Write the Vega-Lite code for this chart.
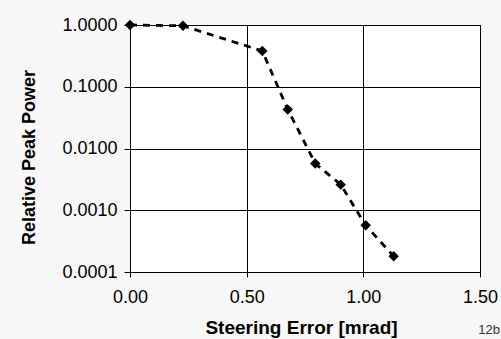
{
  "$schema": "https://vega.github.io/schema/vega-lite/v6.json",
  "width": 350,
  "height": 247,
  "autosize": {"type": "none"},
  "padding": {"left": 130, "top": 25, "right": 21, "bottom": 67},
  "background": "#f7f7f7",
  "title": {"text": "12b", "orient": "bottom", "anchor": "end", "frame": "group", "fontSize": 13, "font": "Liberation Sans", "fontWeight": "normal", "color": "#333333", "dx": 20, "dy": -17},
  "config": {
    "view": {"fill": "white", "stroke": "black", "strokeWidth": 1},
    "axis": {"domainColor": "black", "tickColor": "black", "gridColor": "black", "gridOpacity": 1, "gridWidth": 1, "labelColor": "black", "titleColor": "black", "labelFont": "Liberation Sans", "titleFont": "Liberation Sans", "labelFontSize": 18, "titleFontSize": 18, "titleFontWeight": "bold"}
  },
  "data": {"values": [
    {"x": 0.0, "y": 1.0},
    {"x": 0.227, "y": 0.97},
    {"x": 0.567, "y": 0.38},
    {"x": 0.676, "y": 0.043},
    {"x": 0.794, "y": 0.0057},
    {"x": 0.903, "y": 0.0026},
    {"x": 1.01, "y": 0.00057},
    {"x": 1.13, "y": 0.00018}
  ]},
  "encoding": {
    "x": {"field": "x", "type": "quantitative", "scale": {"domain": [0, 1.5], "nice": false, "zero": false},
      "axis": {"values": [0, 0.5, 1, 1.5], "format": ".2f", "title": "Steering Error [mrad]", "titleFontSize": 19, "tickSize": 5, "labelPadding": 11, "titleX": 171, "titleY": 61, "titleBaseline": "alphabetic", "labelFlush": false}},
    "y": {"field": "y", "type": "quantitative", "scale": {"type": "log", "domain": [0.0001, 1], "nice": false},
      "axis": {"values": [1, 0.1, 0.01, 0.001, 0.0001], "format": ".4f", "title": "Relative Peak Power", "tickSize": 6, "labelPadding": 7, "titleX": -101, "titleY": 132, "titleBaseline": "middle", "labelFlush": false}}
  },
  "layer": [
    {"mark": {"type": "line", "color": "black", "strokeWidth": 2.8, "strokeDash": [7, 6]}},
    {"mark": {"type": "point", "shape": "diamond", "filled": true, "color": "black", "opacity": 1, "size": 110}}
  ]
}
